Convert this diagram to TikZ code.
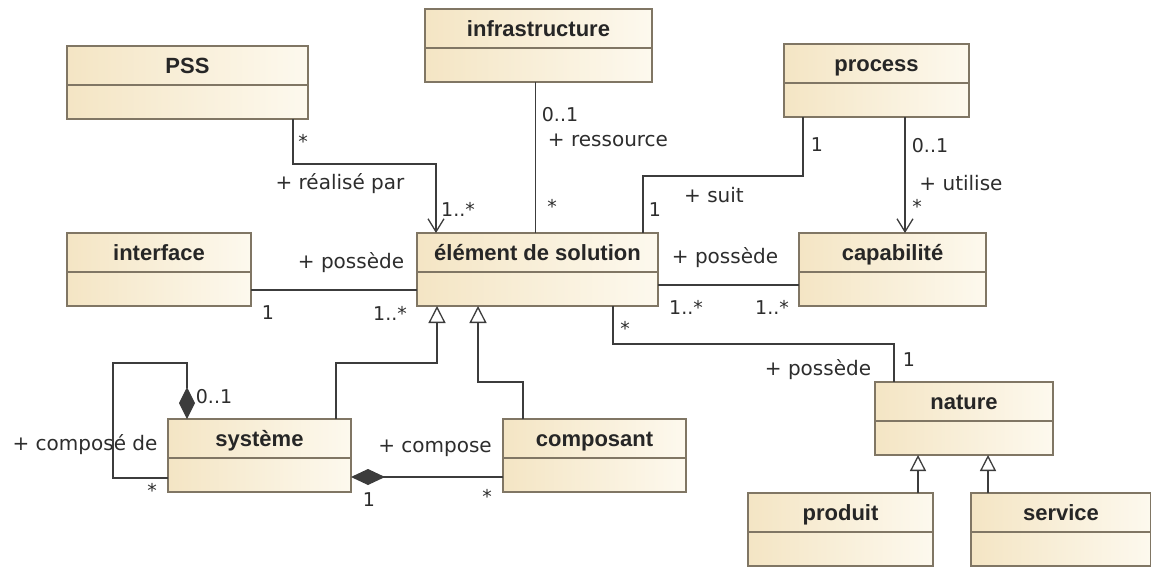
\documentclass[tikz,border=0pt]{standalone}
\usepackage{fontspec}
\setmainfont{DejaVu Sans}
\newfontfamily\titlefont{Liberation Sans}
\usetikzlibrary{arrows.meta, positioning, calc}

\definecolor{classL}{RGB}{244,229,196}
\definecolor{classR}{RGB}{253,249,238}
\definecolor{classB}{RGB}{128,118,100}
\definecolor{wirec}{RGB}{60,60,60}
\definecolor{ink}{RGB}{45,45,45}

\tikzset{
  umlclass/.style={draw=classB, line width=1.3pt, left color=classL, right color=classR,
    anchor=north west, inner xsep=0pt, inner ysep=0pt, outer sep=0pt,
    text height=27pt, text depth=46pt, text=black!85,
    font=\titlefont\bfseries\fontsize{22}{24}\selectfont,
    path picture={\draw[classB, line width=1.3pt]
      ([yshift=-39pt]path picture bounding box.north west) --
      ([yshift=-39pt]path picture bounding box.north east);}},
  wire/.style={draw=wirec, line width=1.3pt},
  role/.style={font=\fontsize{20}{22}\selectfont, text=ink, inner sep=0pt},
  mult/.style={font=\fontsize{19}{21}\selectfont, text=ink, inner sep=0pt},
  navig/.style={-{Straight Barb[length=13pt, width=16pt]}},
  inherit/.style={-{Triangle[open, length=#1, width=#1, fill=white]}},
  inherit/.default=17pt,
  compos/.style={-{Diamond[length=#1, width=16pt]}},
  compos/.default=32pt
}

\begin{document}
\begin{tikzpicture}[x=1pt, y=-1pt]
\fill[white] (0,0) rectangle (1151,568);
\useasboundingbox (0,0) rectangle (1151,568);

% classes
\node[umlclass, minimum width=241pt] (pss) at (67,46) {PSS};
\node[umlclass, minimum width=227pt] (infra) at (425,9) {infrastructure};
\node[umlclass, minimum width=185pt] (proc) at (784,44) {process};
\node[umlclass, minimum width=184pt] (iface) at (67,233) {interface};
\node[umlclass, minimum width=241pt] (elem) at (417,233) {élément de solution};
\node[umlclass, minimum width=187pt] (capa) at (799,233) {capabilité};
\node[umlclass, minimum width=183pt] (sys) at (168,419) {système};
\node[umlclass, minimum width=183pt] (comp) at (503,419) {composant};
\node[umlclass, minimum width=178pt] (nature) at (875,382) {nature};
\node[umlclass, minimum width=185pt] (prod) at (748,493) {produit};
\node[umlclass, minimum width=180pt] (serv) at (971,493) {service};

% associations
\draw[wire, navig] ([xshift=-15pt]pss.south east) -- ++(0,45) -| ([xshift=19pt]elem.north west);
\draw[wire] ([xshift=-3pt]infra.south) -- ([xshift=-3pt]infra.south |- elem.north);
\draw[wire] ([xshift=19pt]proc.south west) -- ++(0,59) -| ([xshift=-15pt]elem.north east);
\draw[wire, navig] ([xshift=121pt]proc.south west) -- ([xshift=121pt]proc.south west |- capa.north);
\draw[wire] ([yshift=16pt]iface.south east) -- ([yshift=16pt]iface.south east -| elem.west);
\draw[wire] ([yshift=21pt]elem.south east) -- ([yshift=21pt]elem.south east -| capa.west);
\draw[wire] ([xshift=-45pt]elem.south east) -- ++(0,38) -| ([xshift=19pt]nature.north west);

% generalisations
\draw[wire, inherit] ([xshift=-15pt]sys.north east) -- ++(0,-56) -| ([xshift=20pt]elem.south west);
\draw[wire, inherit] ([xshift=20pt]comp.north west) -- ++(0,-37) -| ([xshift=61pt]elem.south west);
\draw[wire, inherit=16pt] ([xshift=-15pt]prod.north east) -- ([xshift=-15pt]prod.north east |- nature.south);
\draw[wire, inherit=16pt] ([xshift=17pt]serv.north west) -- ([xshift=17pt]serv.north west |- nature.south);

% compositions
\draw[wire, compos] ([yshift=14pt]sys.south west) -| ++(-55,-115) -| ([xshift=19pt]sys.north west);
\draw[wire, compos=34pt] ([yshift=15pt]comp.south west) -- ([yshift=15pt]comp.south west -| sys.east);

% roles and multiplicities
\node[mult] (mPss) at (303,141) {*};
\node[role] (rReal) at (340,184) {+ réalisé par};
\node[mult] (mReal) at (458,209) {1..*};
\node[mult] (mInfra) at (560,115) {0..1};
\node[role] (rRess) at (608,140) {+ ressource};
\node[mult] (mRess) at (552,206) {*};
\node[mult] (mProc) at (817,145) {1};
\node[role] (rSuit) at (714,195) {+ suit};
\node[mult] (mSuit) at (655,210) {1};
\node[mult] (mUtil) at (930,146) {0..1};
\node[role] (rUtil) at (961,183) {+ utilise};
\node[mult] (mCapa) at (917,206) {*};
\node[role] (rIface) at (351,263) {+ possède};
\node[mult] (mIface) at (268,313) {1};
\node[mult] (mIfEl) at (390,313) {1..*};
\node[role] (rCapa) at (725,258) {+ possède};
\node[mult] (mElCa) at (686,307) {1..*};
\node[mult] (mCaEl) at (772,307) {1..*};
\node[mult] (mElNa) at (625,328) {*};
\node[role] (rNat) at (818,370) {+ possède};
\node[mult] (mNat) at (909,360) {1};
\node[mult] (mSelf) at (214,397) {0..1};
\node[role] (rSelf) at (85,445) {+ composé de};
\node[mult] (mSys) at (152,490) {*};
\node[role] (rComp) at (435,448) {+ compose};
\node[mult] (mSysC) at (369,500) {1};
\node[mult] (mComp) at (487,496) {*};
\end{tikzpicture}
\end{document}
